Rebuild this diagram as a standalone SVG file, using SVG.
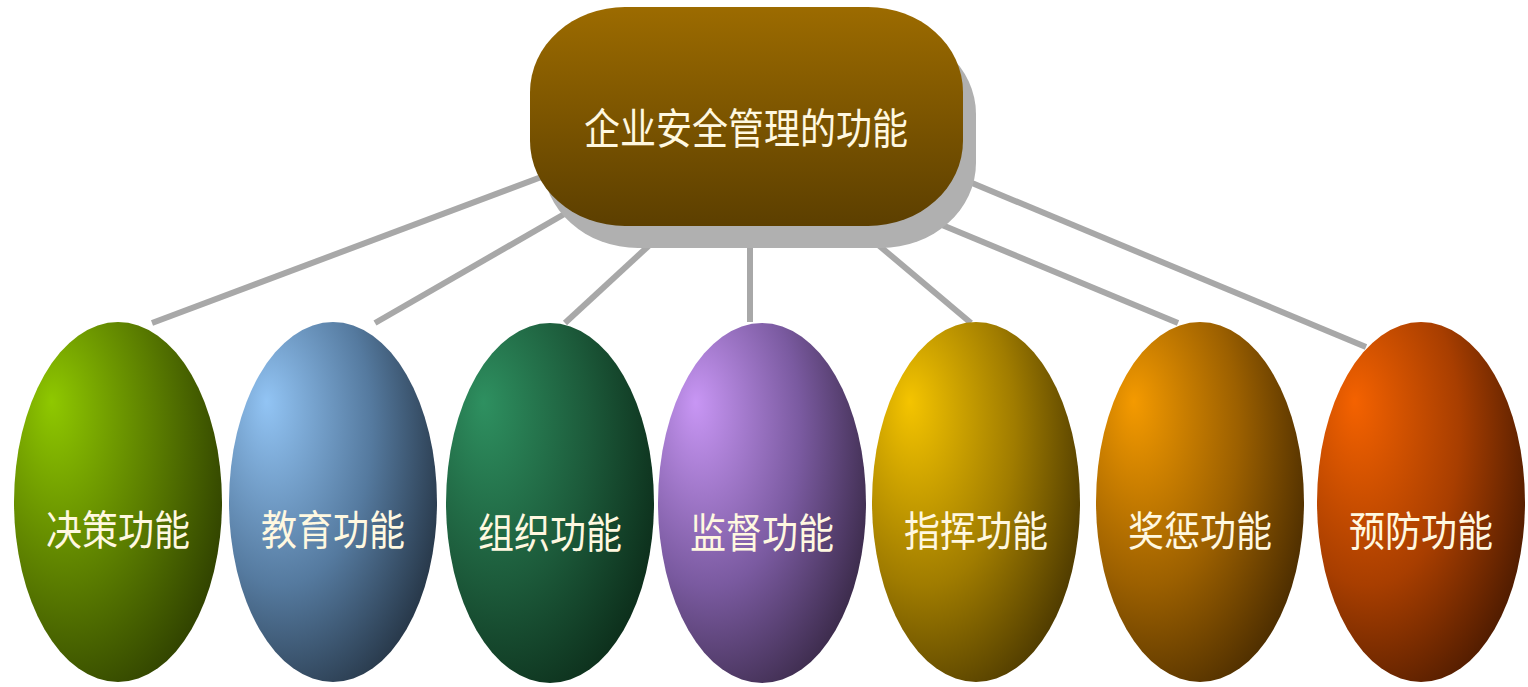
<svg xmlns="http://www.w3.org/2000/svg" width="1528" height="687" viewBox="0 0 1528 687">
  <defs>
    <linearGradient id="gTop" x1="0" y1="0" x2="0" y2="1">
      <stop offset="0" stop-color="#9c6b00"/>
      <stop offset="1" stop-color="#5c3f00"/>
    </linearGradient>
    <radialGradient id="g1" cx="0.3" cy="0.35" r="0.8" fx="0.18" fy="0.22">
      <stop offset="0" stop-color="#8fc800"/>
      <stop offset="0.55" stop-color="#5a7c00"/>
      <stop offset="1" stop-color="#2c3c00"/>
    </radialGradient>
    <radialGradient id="g2" cx="0.3" cy="0.35" r="0.8" fx="0.18" fy="0.22">
      <stop offset="0" stop-color="#92c4f4"/>
      <stop offset="0.55" stop-color="#557a9f"/>
      <stop offset="1" stop-color="#22303f"/>
    </radialGradient>
    <radialGradient id="g3" cx="0.3" cy="0.35" r="0.8" fx="0.18" fy="0.22">
      <stop offset="0" stop-color="#2e9060"/>
      <stop offset="0.55" stop-color="#1c5a3a"/>
      <stop offset="1" stop-color="#0b2a18"/>
    </radialGradient>
    <radialGradient id="g4" cx="0.3" cy="0.35" r="0.8" fx="0.18" fy="0.22">
      <stop offset="0" stop-color="#c896f4"/>
      <stop offset="0.55" stop-color="#7a5aa0"/>
      <stop offset="1" stop-color="#352642"/>
    </radialGradient>
    <radialGradient id="g5" cx="0.3" cy="0.35" r="0.8" fx="0.18" fy="0.22">
      <stop offset="0" stop-color="#f4c400"/>
      <stop offset="0.55" stop-color="#a07c00"/>
      <stop offset="1" stop-color="#463400"/>
    </radialGradient>
    <radialGradient id="g6" cx="0.3" cy="0.35" r="0.8" fx="0.18" fy="0.22">
      <stop offset="0" stop-color="#f49a00"/>
      <stop offset="0.55" stop-color="#9c6000"/>
      <stop offset="1" stop-color="#442800"/>
    </radialGradient>
    <radialGradient id="g7" cx="0.3" cy="0.35" r="0.8" fx="0.18" fy="0.22">
      <stop offset="0" stop-color="#f46200"/>
      <stop offset="0.55" stop-color="#a83e00"/>
      <stop offset="1" stop-color="#461800"/>
    </radialGradient>
  </defs>
  <style>
    .conn { stroke: #a8a8a8; stroke-width: 6; fill: none; }
    .lbl { font-family: "Noto Sans CJK SC", "Noto Sans", sans-serif; font-size: 36px; fill: #fff8e0; text-anchor: middle; dominant-baseline: central; }
  </style>
  <rect width="1528" height="687" fill="#ffffff"/>
  <g id="connectors">
    <line class="conn" x1="152" y1="323" x2="560" y2="170"/>
    <line class="conn" x1="375" y1="323" x2="580" y2="205"/>
    <line class="conn" x1="565" y1="323" x2="655" y2="240"/>
    <line class="conn" x1="750" y1="322" x2="750" y2="235"/>
    <line class="conn" x1="971" y1="323" x2="870" y2="238"/>
    <line class="conn" x1="1178" y1="323" x2="930" y2="220"/>
    <line class="conn" x1="1366" y1="347" x2="960" y2="178"/>
  </g>
  <g id="top">
    <rect x="543" y="29" width="433" height="219" rx="95" ry="85" fill="#b0b0b0"/>
    <rect x="530" y="7" width="433" height="219" rx="95" ry="85" fill="url(#gTop)"/>
    <text class="lbl" transform="translate(746,125) scale(1,1.18)">企业安全管理的功能</text>
  </g>
  <g id="n1">
    <ellipse cx="118" cy="502" rx="104" ry="180" fill="url(#g1)"/>
    <text class="lbl" transform="translate(118,527) scale(1,1.15)">决策功能</text>
  </g>
  <g id="n2">
    <ellipse cx="333" cy="502" rx="104" ry="180" fill="url(#g2)"/>
    <text class="lbl" transform="translate(333,527) scale(1,1.15)">教育功能</text>
  </g>
  <g id="n3">
    <ellipse cx="550" cy="503" rx="104" ry="180" fill="url(#g3)"/>
    <text class="lbl" transform="translate(550,530) scale(1,1.15)">组织功能</text>
  </g>
  <g id="n4">
    <ellipse cx="762" cy="503" rx="104" ry="180" fill="url(#g4)"/>
    <text class="lbl" transform="translate(762,530) scale(1,1.15)">监督功能</text>
  </g>
  <g id="n5">
    <ellipse cx="976" cy="502" rx="104" ry="180" fill="url(#g5)"/>
    <text class="lbl" transform="translate(976,528) scale(1,1.15)">指挥功能</text>
  </g>
  <g id="n6">
    <ellipse cx="1200" cy="502" rx="104" ry="180" fill="url(#g6)"/>
    <text class="lbl" transform="translate(1200,528) scale(1,1.15)">奖惩功能</text>
  </g>
  <g id="n7">
    <ellipse cx="1421" cy="502" rx="104" ry="180" fill="url(#g7)"/>
    <text class="lbl" transform="translate(1421,528) scale(1,1.15)">预防功能</text>
  </g>
</svg>
